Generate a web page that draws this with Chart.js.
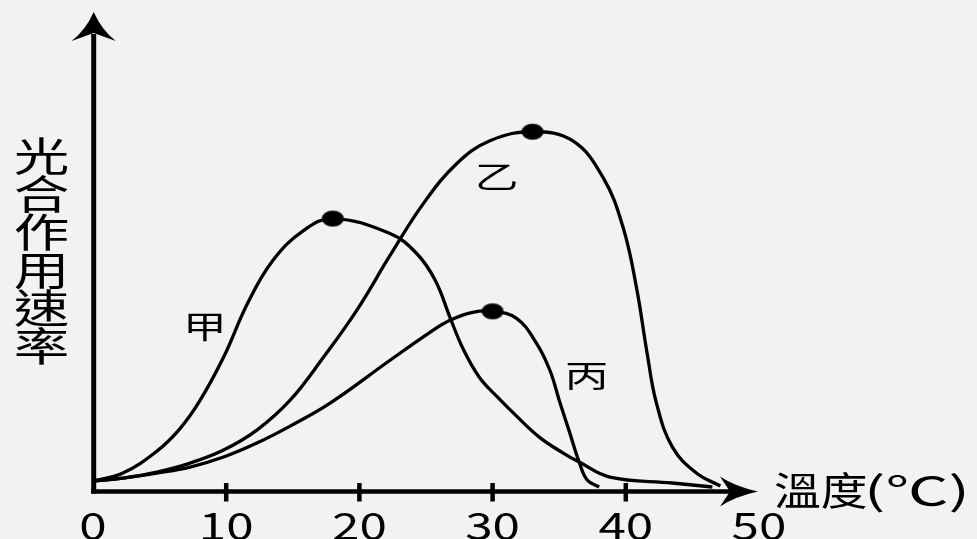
<!DOCTYPE html>
<html>
<head>
<meta charset="utf-8">
<script src="https://cdn.jsdelivr.net/npm/chart.js@4.4.1/dist/chart.umd.min.js"></script>
<style>
  html, body { margin: 0; padding: 0; background: #f2f2f2; }
  #wrap { width: 977px; height: 539px; position: relative; }
</style>
</head>
<body>
<div id="wrap"><canvas id="chart"></canvas></div>
<script>
// 溫度 (°C) 與光合作用速率，數值由圖上估讀（速率為相對單位）
const xTicks = [0, 10, 20, 30, 40, 50];

const jiaTemp = [0, 2.25, 4.8, 6.5, 8.0, 9.8, 11.6, 13.5, 15.8, 18.0, 22.3, 24.3, 25.7, 26.8, 27.8, 29.0, 30.3, 31.8, 33.5, 35.3, 36.5, 38.8, 43.5, 46.5];
const jiaRate = [10, 18, 40, 62, 90, 134, 188, 231, 261, 273, 258, 238, 211, 174, 142, 114, 95, 75, 54, 38, 29, 14, 8, 4];

const yiTemp = [0, 2.25, 4.8, 7.3, 9.8, 12.3, 14.8, 17.3, 19.8, 22.3, 24.8, 27.3, 29.8, 33.0, 36.0, 38.3, 39.8, 40.8, 41.6, 42.3, 43.5, 45.3, 47.1];
const yiRate = [10, 13, 19, 28, 41, 61, 91, 134, 181, 236, 288, 328, 351, 360, 351, 314, 264, 204, 138, 88, 44, 18, 5];

const bingTemp = [0, 2.25, 4.8, 7.3, 9.8, 12.3, 14.8, 17.8, 22.3, 25.3, 26.8, 28.5, 30.0, 31.8, 33.3, 34.3, 35.0, 35.8, 36.5, 37.1, 38.0];
const bingRate = [10, 13, 18, 24, 34, 48, 65, 88, 131, 159, 171, 179, 180, 173, 148, 121, 91, 58, 29, 11, 4];

const seriesNames = ['甲', '乙', '丙'];

const FONT = '"Noto Sans CJK TC", "Noto Sans", sans-serif';

function toPoints(xs, ys) {
  return xs.map((x, i) => ({ x: x, y: ys[i] }));
}

function peakOf(xs, ys) {
  let best = 0;
  ys.forEach((v, i) => { if (v > ys[best]) best = i; });
  return { x: xs[best], y: ys[best] };
}

// 圖是橫向拉寬的，圓點畫成橢圓
const dot = document.createElement('canvas');
dot.width = 24; dot.height = 18;
(function () {
  const c = dot.getContext('2d');
  c.fillStyle = '#000';
  c.beginPath();
  c.ellipse(12, 9, 11, 8, 0, 0, Math.PI * 2);
  c.fill();
})();

function stretchText(ctx, text, x, y, size, k, align, baseline) {
  ctx.save();
  ctx.font = size + 'px ' + FONT;
  // k < 0 表示「拉到指定寬度」
  if (k < 0) k = -k / ctx.measureText(text).width;
  ctx.translate(x, y);
  ctx.scale(k, 1);
  ctx.fillStyle = '#000';
  ctx.textAlign = align || 'center';
  ctx.textBaseline = baseline || 'middle';
  ctx.fillText(text, 0, 0);
  ctx.restore();
}

const axesPlugin = {
  id: 'axesPlugin',
  beforeDatasetsDraw(chart) {
    const ctx = chart.ctx;
    const xs = chart.scales.x, ys = chart.scales.y;
    const x0 = xs.getPixelForValue(0) + 0.7;
    const y0 = ys.getPixelForValue(0) + 0.5;

    ctx.save();
    ctx.strokeStyle = '#000';
    ctx.fillStyle = '#000';

    // 縱軸
    ctx.lineWidth = 5;
    ctx.beginPath();
    ctx.moveTo(x0, y0 + 2);
    ctx.lineTo(x0, 34);
    ctx.stroke();
    ctx.beginPath();
    ctx.moveTo(x0, 12);
    ctx.quadraticCurveTo(x0 - 8, 30, x0 - 22, 41);
    ctx.lineTo(x0, 33);
    ctx.lineTo(x0 + 22, 41);
    ctx.quadraticCurveTo(x0 + 8, 30, x0, 12);
    ctx.fill();

    // 橫軸
    ctx.lineWidth = 4.7;
    ctx.beginPath();
    ctx.moveTo(x0 - 2.5, y0);
    ctx.lineTo(735, y0);
    ctx.stroke();
    ctx.beginPath();
    ctx.moveTo(758, y0);
    ctx.quadraticCurveTo(735, y0 - 5, 720, y0 - 15);
    ctx.lineTo(730, y0);
    ctx.lineTo(720, y0 + 15);
    ctx.quadraticCurveTo(735, y0 + 5, 758, y0);
    ctx.fill();

    // 刻度
    ctx.lineWidth = 4.5;
    xTicks.forEach(t => {
      if (t === 0 || t === 50) return;
      const px = xs.getPixelForValue(t);
      ctx.beginPath();
      ctx.moveTo(px, y0 - 8.5);
      ctx.lineTo(px, y0 + 10);
      ctx.stroke();
    });
    ctx.restore();
  },
  afterDraw(chart) {
    const ctx = chart.ctx;
    const xs = chart.scales.x, ys = chart.scales.y;

    xTicks.forEach(t => {
      stretchText(ctx, String(t), xs.getPixelForValue(t), 540, 38, 1.3, 'center', 'alphabetic');
    });

    // 縱軸標題（直排）
    const yTitle = '光合作用速率';
    [...yTitle].forEach((ch, i) => {
      stretchText(ctx, ch, 41.5, 156 + 38 * i, 40, 1.39);
    });

    // 橫軸標題
    stretchText(ctx, '溫度', 774, 490, 39, 1.2, 'left');
    stretchText(ctx, '(℃)', 864, 490, 39, -106, 'left');

    // 曲線名稱
    const spots = [[8.4, 165], [30.3, 315], [37.06, 116]];
    seriesNames.forEach((n, i) => {
      stretchText(ctx, n, xs.getPixelForValue(spots[i][0]), ys.getPixelForValue(spots[i][1]), 31, 1.41);
    });
  }
};

const curveStyle = {
  borderColor: '#000',
  borderWidth: 3.3,
  pointRadius: 0,
  fill: false,
  tension: 0.4
};

new Chart(document.getElementById('chart'), {
  type: 'line',
  data: {
    datasets: [
      Object.assign({ label: seriesNames[0], data: toPoints(jiaTemp, jiaRate) }, curveStyle),
      Object.assign({ label: seriesNames[1], data: toPoints(yiTemp, yiRate) }, curveStyle),
      Object.assign({ label: seriesNames[2], data: toPoints(bingTemp, bingRate) }, curveStyle),
      {
        type: 'scatter',
        label: 'peaks',
        data: [peakOf(jiaTemp, jiaRate), peakOf(yiTemp, yiRate), peakOf(bingTemp, bingRate)],
        pointStyle: dot,
        pointRadius: 11,
        showLine: false
      }
    ]
  },
  options: {
    responsive: true,
    maintainAspectRatio: false,
    animation: false,
    layout: { padding: { left: 93, right: 218, top: 11, bottom: 48 } },
    scales: {
      x: { type: 'linear', min: 0, max: 50, display: false },
      y: { min: 0, max: 480, display: false }
    },
    plugins: {
      legend: { display: false },
      tooltip: { enabled: false }
    }
  },
  plugins: [axesPlugin]
});
</script>
</body>
</html>
